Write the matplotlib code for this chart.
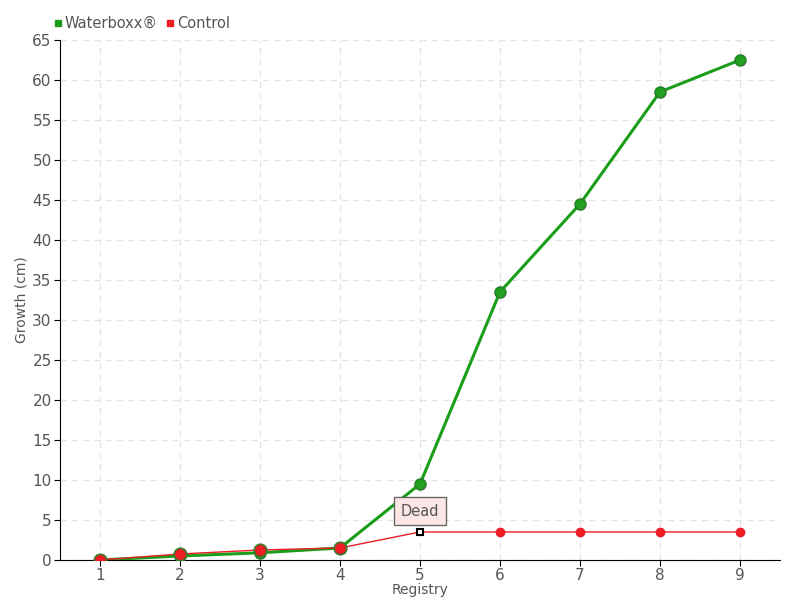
import matplotlib
matplotlib.use("Agg")
import matplotlib.pyplot as plt
from matplotlib.lines import Line2D

registry = [1, 2, 3, 4, 5, 6, 7, 8, 9]
waterboxx = [0, 0.5, 0.9, 1.5, 9.5, 33.5, 44.5, 58.5, 62.5]
control = [0, 0.75, 1.25, 1.5, 3.5, 3.5, 3.5, 3.5, 3.5]
yticks = list(range(0, 70, 5))

plt.rcParams["font.family"] = ["DejaVu Sans"]

green = "#1a9e1a"
red = "#ee1c25"
txt = "#555555"

fig = plt.figure(figsize=(8, 6), dpi=100)
ax = fig.add_axes([0.075, 0.0667, 0.9, 0.8667])

ax.plot(registry, waterboxx, color=green, lw=2.2, marker="o", ms=8,
        markerfacecolor="#22a022", markeredgecolor="#2a7a2a", zorder=3, label="Waterboxx®")
ax.plot(registry, control, color=red, lw=1, zorder=4, label="Control")
for i, (x, y) in enumerate(zip(registry, control)):
    if i == 4:
        ax.plot(x, y, marker="s", ms=5, markerfacecolor="white", markeredgecolor="black", mew=1.5, zorder=6)
    elif i < 4:
        ax.plot(x, y, marker="o", ms=9, markerfacecolor=red, markeredgecolor="#3a7a2a", mew=1.2, zorder=5)
    else:
        ax.plot(x, y, marker="o", ms=6, markerfacecolor=red, markeredgecolor=red, zorder=5)

ax.annotate("Dead", xy=(5, 3.5), xytext=(5, 6.1), ha="center", va="center",
            fontsize=10.5, color=txt,
            bbox=dict(boxstyle="square,pad=0.45", fc="#fde6e6", ec="#666666", lw=1),
            zorder=7)

ax.set_xlim(0.5, 9.5)
ax.set_ylim(0, 65)
ax.set_xticks(registry)
ax.set_yticks(yticks)
ax.grid(True, color="#e2e2e2", linestyle=(0, (5, 4)), lw=0.9)
ax.set_axisbelow(True)
for s in ["top", "right"]:
    ax.spines[s].set_visible(False)
ax.spines["left"].set_color("black")
ax.spines["bottom"].set_color("black")
ax.tick_params(colors="black", labelcolor=txt, labelsize=11, length=4, pad=2)
ax.set_xlabel("Registry", color=txt, fontsize=10, labelpad=0)
ax.set_ylabel("Growth (cm)", color=txt, fontsize=10, labelpad=3)

handles = [Line2D([], [], marker="s", color="none", markerfacecolor=green, markeredgecolor=green, ms=5),
           Line2D([], [], marker="s", color="none", markerfacecolor=red, markeredgecolor=red, ms=5)]
fig.legend(handles, ["Waterboxx®", "Control"], loc="upper left", bbox_to_anchor=(0.052, 0.995),
           ncol=2, frameon=False, fontsize=10.5, labelcolor=txt, handlelength=0.5,
           handletextpad=0.2, columnspacing=0.6)

fig.savefig("out.png", dpi=100)
